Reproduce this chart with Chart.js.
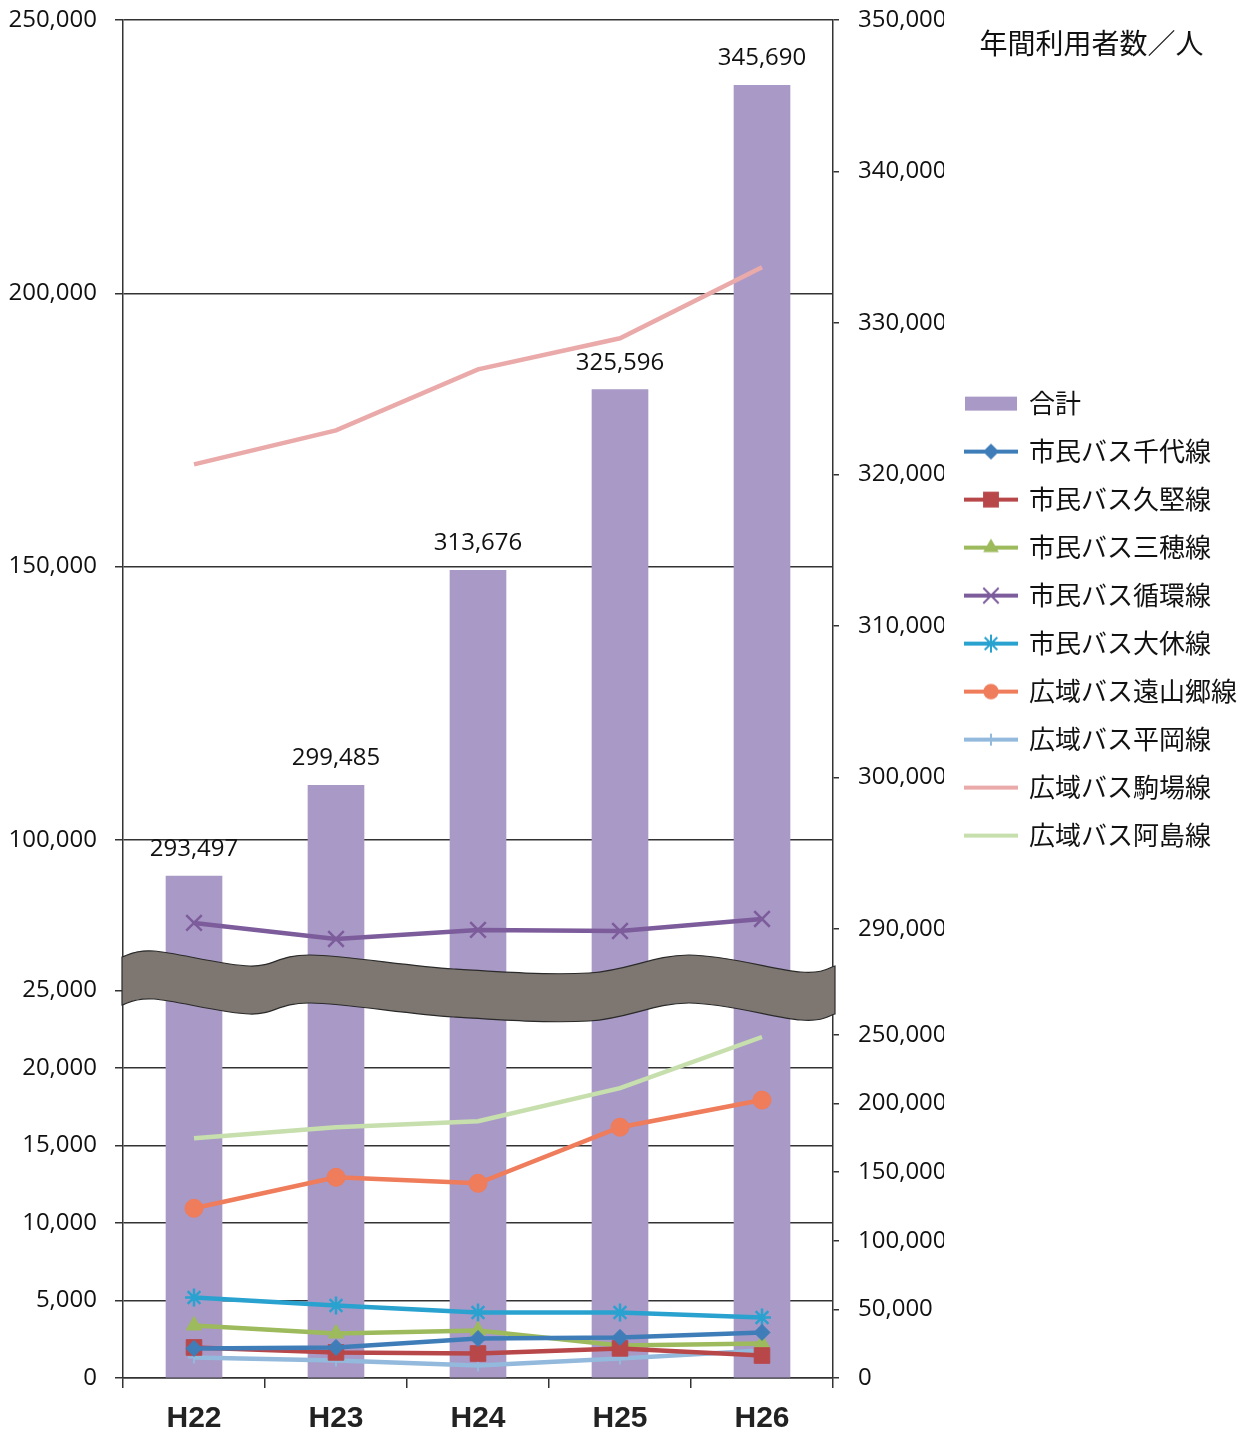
<!DOCTYPE html>
<html>
<head>
<meta charset="utf-8">
<script src="https://cdn.jsdelivr.net/npm/chart.js@4/dist/chart.umd.min.js"></script>
<style>
html,body{margin:0;padding:0;background:#fff;}
#wrap{width:1239px;height:1434px;position:relative;}
</style>
</head>
<body>
<div id="wrap"><canvas id="c"></canvas></div>
<script>
// ---- data ----
const categories = ['H22', 'H23', 'H24', 'H25', 'H26'];
const totals   = [293497, 299485, 313676, 325596, 345690];   // 合計 (right axis)
const chiyo    = [1910, 1970, 2550, 2620, 2940];              // 市民バス千代線
const kugatai  = [1970, 1650, 1580, 1910, 1450];              // 市民バス久堅線
const miho     = [3390, 2870, 3070, 2100, 2230];              // 市民バス三穂線
const junkan   = [84820, 81890, 83540, 83350, 85550];         // 市民バス循環線
const daikyu   = [5200, 4680, 4230, 4230, 3910];              // 市民バス大休線
const toyamago = [10950, 12950, 12560, 16180, 17930];         // 広域バス遠山郷線
const hiraoka  = [1320, 1130, 810, 1260, 1780];               // 広域バス平岡線
const komaba   = [168720, 174940, 186100, 191770, 204760];    // 広域バス駒場線
const ajima    = [15470, 16180, 16570, 18700, 22000];         // 広域バス阿島線

const leftTopTicks     = [100000, 150000, 200000, 250000];
const leftBottomTicks  = [0, 5000, 10000, 15000, 20000, 25000];
const rightTopTicks    = [290000, 300000, 310000, 320000, 330000, 340000, 350000];
const rightBottomTicks = [0, 50000, 100000, 150000, 200000, 250000];

const unitTitle = '年間利用者数／人';
// ----------------

const NUM = 'Open Sans, Liberation Sans, sans-serif';
const JP = '"Noto Sans CJK JP", "Noto Sans", sans-serif';
const fmt = v => Number(v).toLocaleString('en-US');
const BAR = '#a999c6';
const GRID = '#333333';

function markerPath(g, style, x, y, r) {
  g.beginPath();
  switch (style) {
    case 'rectRot':
      g.moveTo(x, y - r); g.lineTo(x + r, y); g.lineTo(x, y + r); g.lineTo(x - r, y); g.closePath(); g.fill(); break;
    case 'rect':
      g.fillRect(x - r * 0.72, y - r * 0.72, r * 1.44, r * 1.44); break;
    case 'triangle':
      g.moveTo(x, y - r); g.lineTo(x + r * 0.87, y + r * 0.5); g.lineTo(x - r * 0.87, y + r * 0.5); g.closePath(); g.fill(); break;
    case 'circle':
      g.arc(x, y, r * 0.85, 0, Math.PI * 2); g.fill(); break;
    case 'crossRot': {
      const d = r * 0.7;
      g.moveTo(x - d, y - d); g.lineTo(x + d, y + d); g.moveTo(x + d, y - d); g.lineTo(x - d, y + d); g.stroke(); break;
    }
    case 'star': {
      const d = r * 0.7;
      g.moveTo(x - d, y - d); g.lineTo(x + d, y + d); g.moveTo(x + d, y - d); g.lineTo(x - d, y + d);
      g.moveTo(x, y - r); g.lineTo(x, y + r); g.stroke(); break;
    }
    case 'cross':
      g.moveTo(x, y - r); g.lineTo(x, y + r); g.stroke(); break;
  }
}

function legendIcon(kind, color, marker, r) {
  const c = document.createElement('canvas');
  c.width = 56; c.height = 24;
  const g = c.getContext('2d');
  g.fillStyle = color; g.strokeStyle = color;
  if (kind === 'bar') { g.fillRect(2, 5, 52, 14); return c; }
  g.lineWidth = 4;
  g.beginPath(); g.moveTo(1, 12); g.lineTo(55, 12); g.stroke();
  if (marker) { g.lineWidth = 2; markerPath(g, marker, 28, 12, r); }
  return c;
}

function lineDs(label, data, axis, color, style, radius, bw) {
  return {
    type: 'line', label, data, yAxisID: axis,
    borderColor: color, backgroundColor: color, borderWidth: 4.5,
    pointStyle: style || false, pointRadius: style ? radius : 0,
    pointBackgroundColor: color, pointBorderColor: color, pointBorderWidth: bw || 1,
    tension: 0, order: 1,
    legendIcon: legendIcon('line', color, style, radius)
  };
}

const datasets = [
  { type: 'bar', label: '合計', data: totals, yAxisID: 'yRB', backgroundColor: BAR, grouped: false,
    barThickness: 56, order: 20, clip: 0, legendIcon: legendIcon('bar', BAR) },
  { type: 'bar', label: '合計', data: totals, yAxisID: 'yRT', backgroundColor: BAR, grouped: false,
    barThickness: 56, order: 20, clip: 0, hideInLegend: true },
  lineDs('市民バス千代線', chiyo, 'yLB', '#3f7db8', 'rectRot', 8),
  lineDs('市民バス久堅線', kugatai, 'yLB', '#b8474a', 'rect', 11),
  lineDs('市民バス三穂線', miho, 'yLB', '#9dbb5c', 'triangle', 9),
  lineDs('市民バス循環線', junkan, 'yLT', '#7d5c9c', 'crossRot', 11, 2.5),
  lineDs('市民バス大休線', daikyu, 'yLB', '#2aa2d0', 'star', 9, 2.5),
  lineDs('広域バス遠山郷線', toyamago, 'yLB', '#ef7c5b', 'circle', 9),
  lineDs('広域バス平岡線', hiraoka, 'yLB', '#93b9dc', 'cross', 6, 2),
  lineDs('広域バス駒場線', komaba, 'yLT', '#eaaaa9', null, 0),
  lineDs('広域バス阿島線', ajima, 'yLB', '#c6dfad', null, 0)
];

function fixedTicks(arr) { return s => { s.ticks = arr.map(v => ({ value: v })); }; }

const tickFont = { family: NUM, size: 24 };
function yAxis(pos, stack, weight, stackWeight, min, max, ticks, width, isLeft) {
  return {
    type: 'linear', position: pos, stack, stackWeight, weight, min, max,
    afterBuildTicks: fixedTicks(ticks),
    afterFit: s => { s.width = width; s.paddingTop = 4; s.paddingBottom = 4; },
    grid: { display: true, drawOnChartArea: isLeft, drawTicks: true, tickLength: isLeft ? 8 : 6,
            color: GRID, lineWidth: 1.5 },
    border: { display: true, color: GRID, width: 1.5 },
    ticks: { autoSkip: false, font: tickFont, color: '#111', padding: isLeft ? 18 : 19, callback: v => fmt(v) }
  };
}

// break band (decorative) — control points: fraction of chart width, offset from break line
const bandX   = [0, 0.045, 0.179, 0.265, 0.465, 0.655, 0.795, 0.952, 1];
const bandTop = [-18, -24, -9, -20, -6, -2, -20, -3, -9];
const bandThick = 48;

function splinePath(ctx, pts, moveFirst) {
  if (moveFirst) ctx.moveTo(pts[0][0], pts[0][1]); else ctx.lineTo(pts[0][0], pts[0][1]);
  for (let i = 0; i < pts.length - 1; i++) {
    const p0 = pts[Math.max(0, i - 1)], p1 = pts[i], p2 = pts[i + 1], p3 = pts[Math.min(pts.length - 1, i + 2)];
    const c1x = p1[0] + (p2[0] - p0[0]) / 6, c1y = p1[1] + (p2[1] - p0[1]) / 6;
    const c2x = p2[0] - (p3[0] - p1[0]) / 6, c2y = p2[1] - (p3[1] - p1[1]) / 6;
    ctx.bezierCurveTo(c1x, c1y, c2x, c2y, p2[0], p2[1]);
  }
}

const helperPlugin = {
  id: 'helper',
  beforeLayout(chart) {
    const lg = chart.legend;
    if (lg && !lg._fixedW) {
      const f = lg.fit;
      lg.fit = function () { f.call(this); this.width = 295; };
      lg._fixedW = true;
    }
  },
  afterDatasetsDraw(chart) {
    const { ctx, chartArea: a, scales } = chart;
    // value labels above bars
    const meta = chart.getDatasetMeta(1);
    ctx.save();
    ctx.font = '24px ' + NUM;
    ctx.fillStyle = '#111';
    ctx.textAlign = 'center';
    ctx.textBaseline = 'middle';
    meta.data.forEach((el, i) => {
      ctx.fillText(fmt(chart.data.datasets[1].data[i]), el.x, el.y - 27);
    });
    // wavy break band
    const yb = scales.yLT.bottom;
    const L = a.left - 1, W = a.right - a.left + 3;
    const top = bandX.map((f, i) => [L + f * W, yb + bandTop[i]]);
    const bot = bandX.map((f, i) => [L + f * W, yb + bandTop[i] + bandThick]).reverse();
    ctx.beginPath();
    splinePath(ctx, top, true);
    splinePath(ctx, bot, false);
    ctx.closePath();
    ctx.fillStyle = '#7e7771';
    ctx.fill();
    ctx.lineWidth = 1.2;
    ctx.strokeStyle = '#2a2a2a';
    ctx.stroke();
    ctx.restore();
  }
};

new Chart(document.getElementById('c'), {
  data: { labels: categories, datasets },
  options: {
    responsive: true, maintainAspectRatio: false, animation: false, events: [],
    layout: { padding: { top: 20, left: 0, right: 0, bottom: 0 } },
    scales: {
      x: {
        type: 'category', offset: true,
        afterFit: s => { s.height = 56; },
        grid: { offset: true, drawOnChartArea: false, drawTicks: true, tickLength: 10, color: GRID, lineWidth: 1.5 },
        border: { display: true, color: GRID, width: 1.5 },
        ticks: { font: { family: '"Liberation Sans Narrow", "Liberation Sans", sans-serif', size: 30, weight: 'bold' },
                 color: '#222', padding: 13 }
      },
      yLT: yAxis('left', 'left', 2, 955, 75300, 250000, leftTopTicks, 123, true),
      yLB: yAxis('left', 'left', 1, 403, 0, 26000, leftBottomTicks, 123, true),
      yRT: yAxis('right', 'right', 1, 955, 286960, 350000, rightTopTicks, 111, false),
      yRB: yAxis('right', 'right', 2, 403, 0, 293700, rightBottomTicks, 111, false)
    },
    plugins: {
      tooltip: { enabled: false },
      legend: {
        display: true, position: 'right', align: 'start',
        title: { display: true, text: unitTitle, position: 'center', color: '#111',
                 font: { family: JP, size: 28 }, padding: { top: 9, bottom: 306 } },
        labels: {
          usePointStyle: true, pointStyleWidth: 50, padding: 22, color: '#111',
          font: { family: JP, size: 26 },
          generateLabels: chart => chart.data.datasets
            .map((ds, i) => ({ ds, i }))
            .filter(o => !o.ds.hideInLegend)
            .map(o => ({
              text: o.ds.label, datasetIndex: o.i, pointStyle: o.ds.legendIcon,
              fillStyle: o.ds.backgroundColor, strokeStyle: o.ds.borderColor || o.ds.backgroundColor,
              lineWidth: 0, hidden: false, fontColor: '#111'
            }))
        }
      }
    }
  },
  plugins: [helperPlugin]
});
</script>
</body>
</html>
